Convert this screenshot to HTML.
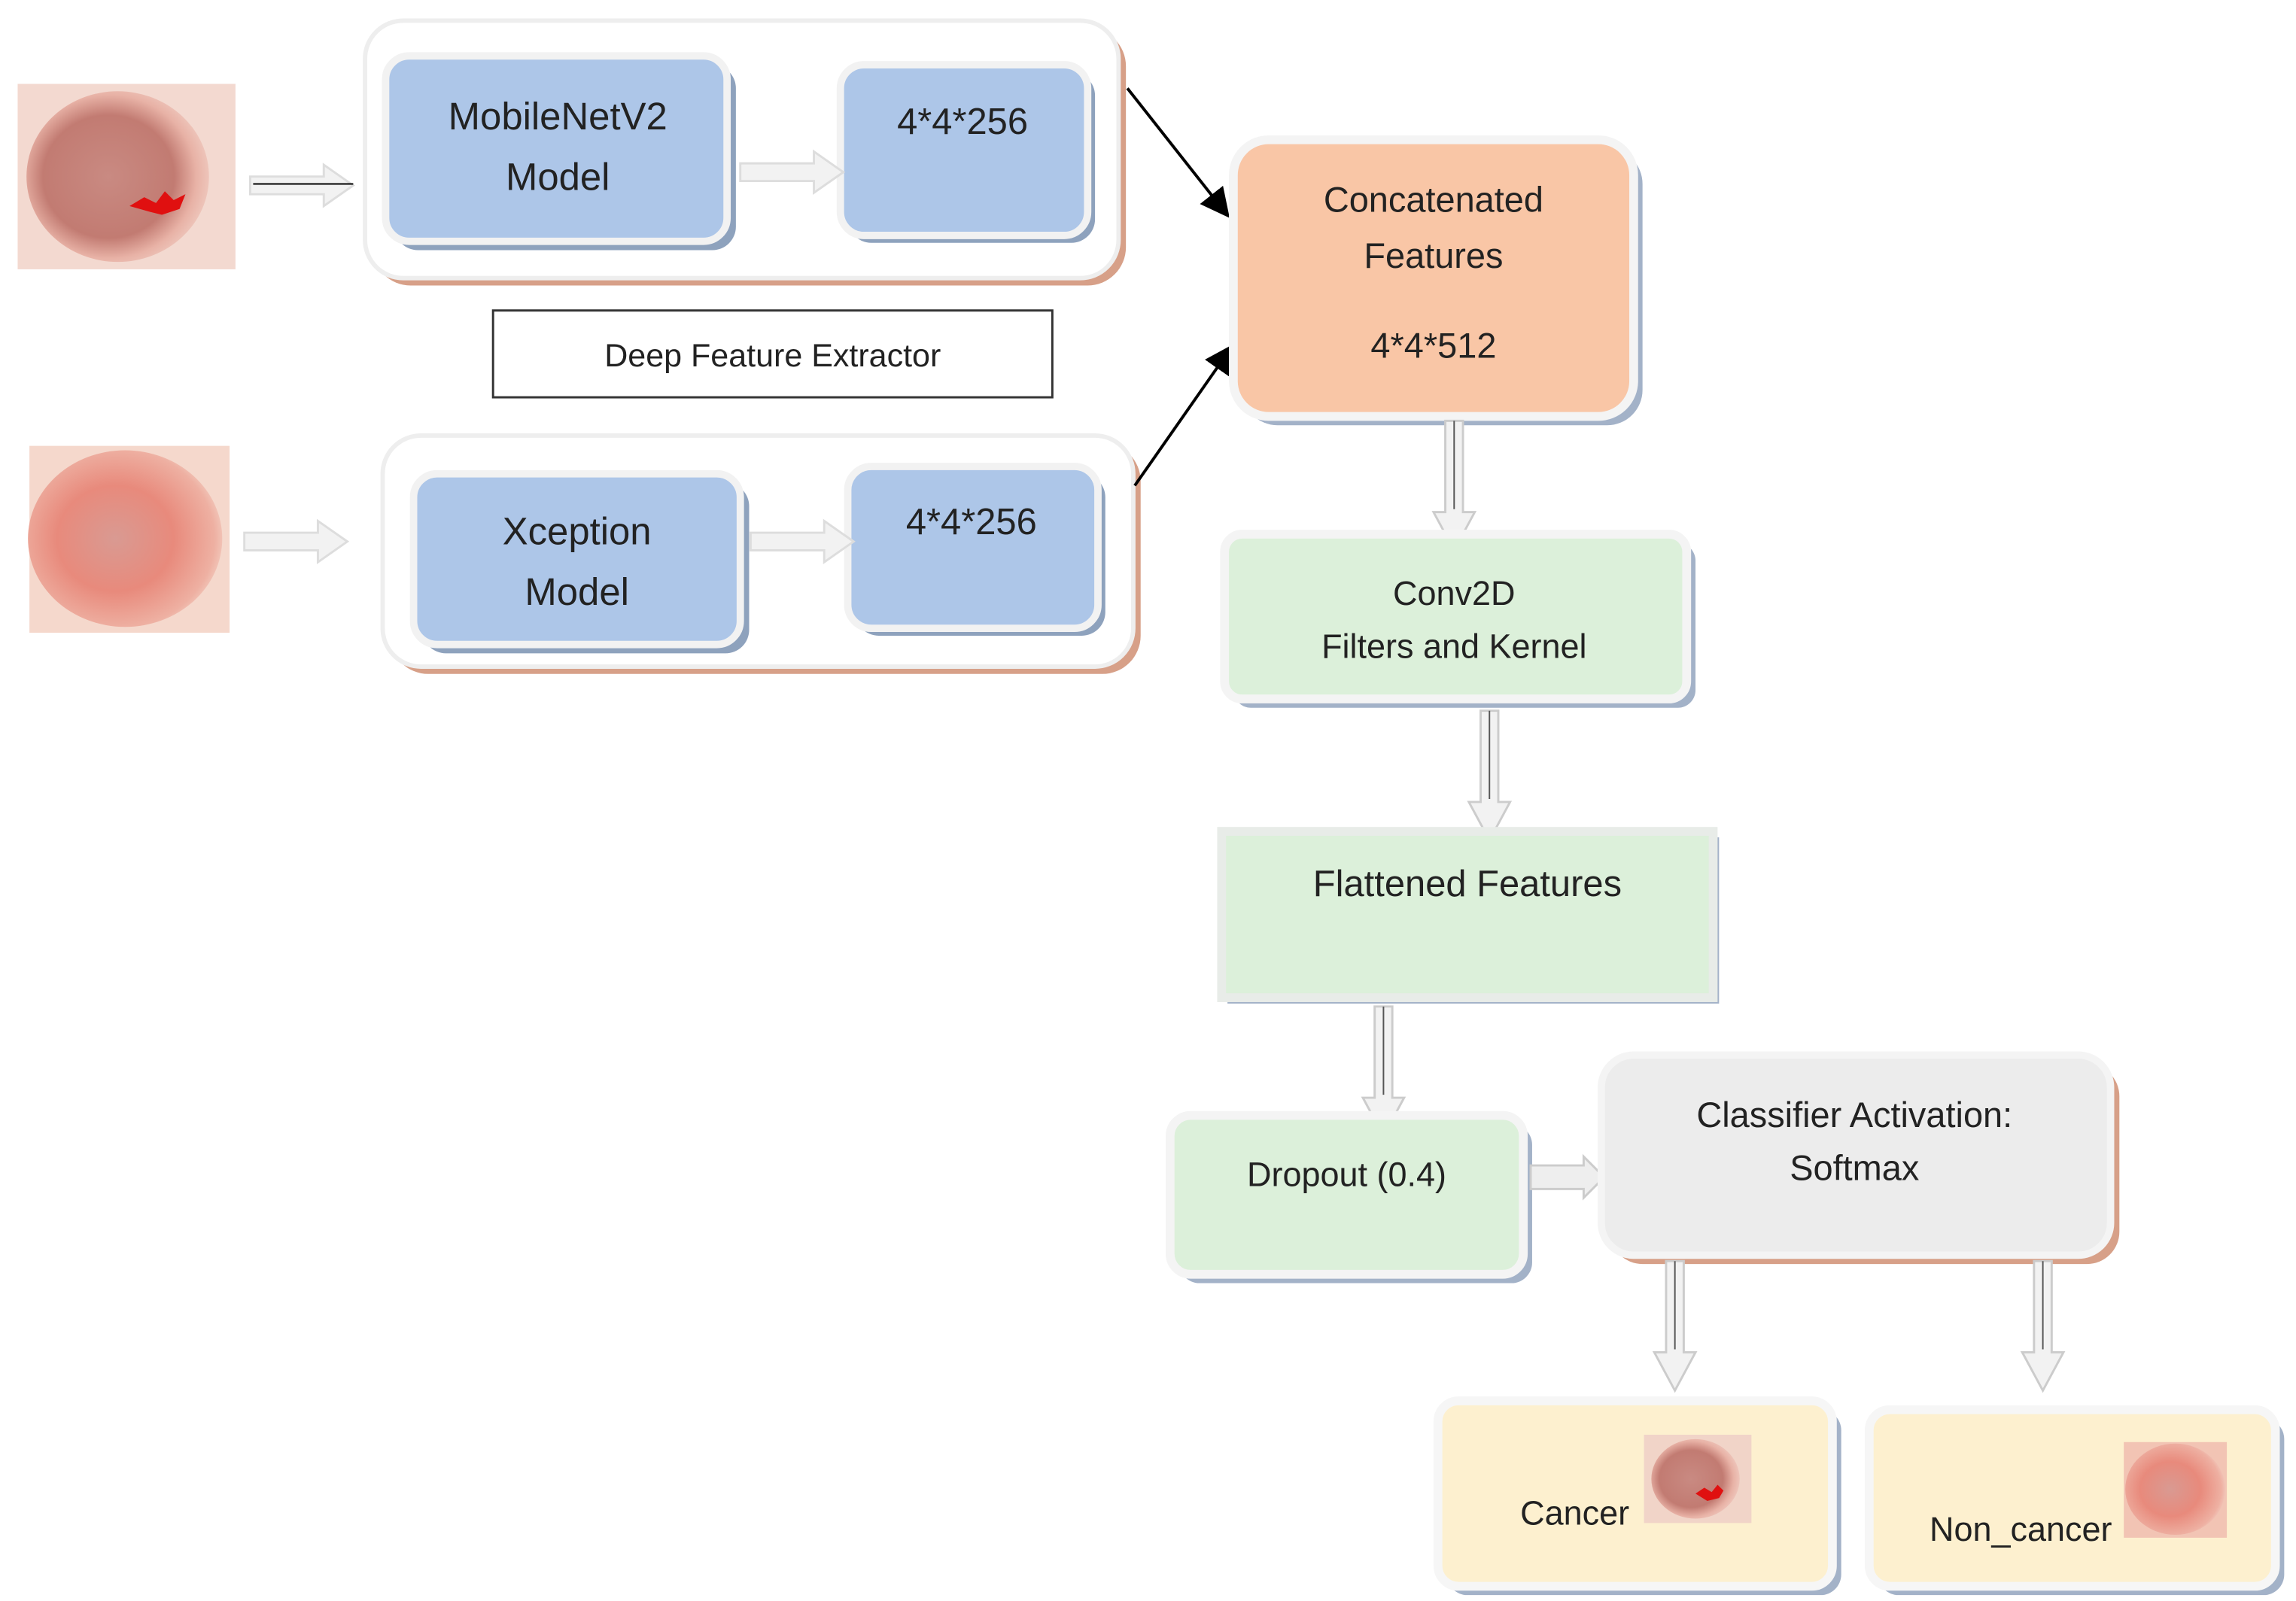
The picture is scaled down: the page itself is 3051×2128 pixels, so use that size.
<!DOCTYPE html>
<html><head><meta charset="utf-8"><style>
html,body{margin:0;padding:0;background:#fff}
svg{display:block}
text{font-family:"Liberation Sans",sans-serif;fill:#222}
</style></head><body>
<svg width="3051" height="2128" viewBox="0 0 1560 1088" preserveAspectRatio="none" xmlns="http://www.w3.org/2000/svg">
<defs>
<radialGradient id="sk1" cx="0.45" cy="0.5" r="0.6"><stop offset="0" stop-color="#c98a82"/><stop offset="0.6" stop-color="#c27b72"/><stop offset="0.8" stop-color="#e8b2a6"/><stop offset="1" stop-color="#f2d2c8"/></radialGradient>
<radialGradient id="sk2" cx="0.45" cy="0.5" r="0.6"><stop offset="0" stop-color="#d99a92"/><stop offset="0.5" stop-color="#e88a7c"/><stop offset="0.85" stop-color="#eeb0a2"/><stop offset="1" stop-color="#f5d8cc"/></radialGradient>
<marker id="ah" markerWidth="10" markerHeight="10" refX="8" refY="5" orient="auto"><path d="M0,0 L10,5 L0,10 z" fill="#000"/></marker>
<g id="harr"><path d="M0,-6 H50 V-14 L70,0 L50,14 V6 H0 z" fill="#f2f2f2" stroke="#ddd" stroke-width="1.5"/></g>
<g id="varr"><path d="M-6,0 V62 H-14 L0,88 L14,62 H6 V0 z" fill="#f2f2f2" stroke="#ccc" stroke-width="1.5"/><line x1="0" y1="0" x2="0" y2="60" stroke="#555" stroke-width="1"/></g>
</defs>
<!-- images -->
<rect x="12" y="57" width="148" height="126" fill="#f3d9d0"/>
<ellipse cx="80" cy="120" rx="62" ry="58" fill="url(#sk1)"/>
<path d="M88,140 l10,-6 8,4 6,-8 6,6 8,-4 -4,10 -12,4 -8,-2z" fill="#e01010"/>
<rect x="20" y="303" width="136" height="127" fill="#f5d8cc"/>
<ellipse cx="85" cy="366" rx="66" ry="60" fill="url(#sk2)"/>
<!-- outer box 1 -->
<rect x="253" y="19" width="512" height="175" rx="26" fill="#d7a088"/>
<rect x="248" y="14" width="512" height="175" rx="26" fill="#fff" stroke="#eee" stroke-width="3"/>
<rect x="268" y="44" width="232" height="126" rx="16" fill="#8ea2bd"/>
<rect x="262" y="38" width="232" height="126" rx="16" fill="#adc6e8" stroke="#f2f2f2" stroke-width="5"/>
<text x="379" y="88" font-size="26" text-anchor="middle">MobileNetV2</text>
<text x="379" y="129" font-size="26" text-anchor="middle">Model</text>
<rect x="576" y="49" width="168" height="116" rx="16" fill="#8ea2bd"/>
<rect x="571" y="44" width="168" height="116" rx="16" fill="#adc6e8" stroke="#f2f2f2" stroke-width="5"/>
<text x="654" y="91" font-size="25" text-anchor="middle">4*4*256</text>
<use href="#harr" x="170" y="126"/>
<line x1="172" y1="125" x2="240" y2="125" stroke="#000" stroke-width="1"/>
<use href="#harr" x="503" y="117"/>
<!-- label -->
<rect x="335" y="211" width="380" height="59" fill="#fff" stroke="#333" stroke-width="1.5"/>
<text x="525" y="249" font-size="22" text-anchor="middle">Deep Feature Extractor</text>
<!-- outer box 2 -->
<rect x="265" y="301" width="510" height="157" rx="26" fill="#d7a088"/>
<rect x="260" y="296" width="510" height="157" rx="26" fill="#fff" stroke="#eee" stroke-width="3"/>
<rect x="287" y="328" width="222" height="116" rx="16" fill="#8ea2bd"/>
<rect x="281" y="322" width="222" height="116" rx="16" fill="#adc6e8" stroke="#f2f2f2" stroke-width="5"/>
<text x="392" y="370" font-size="26" text-anchor="middle">Xception</text>
<text x="392" y="411" font-size="26" text-anchor="middle">Model</text>
<rect x="581" y="322" width="170" height="110" rx="16" fill="#8ea2bd"/>
<rect x="576" y="317" width="170" height="110" rx="16" fill="#adc6e8" stroke="#f2f2f2" stroke-width="5"/>
<text x="660" y="363" font-size="25" text-anchor="middle">4*4*256</text>
<use href="#harr" x="166" y="368"/>
<use href="#harr" x="510" y="368"/>
<!-- black arrows -->
<line x1="766" y1="60" x2="833" y2="145" stroke="#000" stroke-width="2" marker-end="url(#ah)"/>
<line x1="771" y1="330" x2="836" y2="237" stroke="#000" stroke-width="2" marker-end="url(#ah)"/>
<!-- concatenated -->
<rect x="844" y="101" width="272" height="188" rx="24" fill="#a3b2c8"/>
<rect x="838" y="95" width="272" height="188" rx="24" fill="#f9c6a6" stroke="#f4f4f4" stroke-width="6"/>
<text x="974" y="144" font-size="24" text-anchor="middle">Concatenated</text>
<text x="974" y="182" font-size="24" text-anchor="middle">Features</text>
<text x="974" y="243" font-size="24" text-anchor="middle">4*4*512</text>
<use href="#varr" x="988" y="286"/>
<!-- conv2d -->
<rect x="838" y="369" width="314" height="112" rx="12" fill="#a3b2c8"/>
<rect x="832" y="363" width="314" height="112" rx="12" fill="#dcf0da" stroke="#f4f4f4" stroke-width="6"/>
<text x="988" y="411" font-size="23" text-anchor="middle">Conv2D</text>
<text x="988" y="447" font-size="23" text-anchor="middle">Filters and Kernel</text>
<use href="#varr" x="1012" y="483"/>
<!-- flattened -->
<rect x="834" y="569" width="334" height="113" fill="#a3b2c8"/>
<rect x="830" y="565" width="334" height="113" fill="#dcf0da" stroke="#e8ece8" stroke-width="6"/>
<text x="997" y="609" font-size="25" text-anchor="middle">Flattened Features</text>
<use href="#varr" x="940" y="684"/>
<!-- dropout -->
<rect x="801" y="764" width="240" height="108" rx="14" fill="#a3b2c8"/>
<rect x="795" y="758" width="240" height="108" rx="14" fill="#dcf0da" stroke="#f4f4f4" stroke-width="6"/>
<text x="915" y="806" font-size="23" text-anchor="middle">Dropout (0.4)</text>
<path d="M1040,792 H1076 V786 L1090,800 L1076,814 V808 H1040 z" fill="#eee" stroke="#ccc" stroke-width="1.5"/>
<!-- classifier -->
<rect x="1094" y="723" width="346" height="136" rx="22" fill="#d7a088"/>
<rect x="1088" y="717" width="346" height="136" rx="22" fill="#ececec" stroke="#f4f4f4" stroke-width="5"/>
<text x="1260" y="766" font-size="24" text-anchor="middle">Classifier Activation:</text>
<text x="1260" y="802" font-size="24" text-anchor="middle">Softmax</text>
<use href="#varr" x="1138" y="857"/>
<use href="#varr" x="1388" y="857" transform="translate(0,0)"/>
<!-- cancer -->
<rect x="983" y="958" width="268" height="126" rx="14" fill="#a3b2c8"/>
<rect x="977" y="952" width="268" height="126" rx="14" fill="#fdf0cf" stroke="#f6f6f6" stroke-width="6"/>
<rect x="1117" y="975" width="73" height="60" fill="#f1d4c8"/>
<ellipse cx="1152" cy="1005" rx="30" ry="27" fill="url(#sk1)"/>
<path d="M1152,1015 l6,-4 5,3 4,-5 4,4 -3,5 -8,2z" fill="#e01010"/>
<text x="1070" y="1036" font-size="23" text-anchor="middle">Cancer</text>
<!-- non cancer -->
<rect x="1276" y="964" width="276" height="120" rx="14" fill="#a3b2c8"/>
<rect x="1270" y="958" width="276" height="120" rx="14" fill="#fdf0cf" stroke="#f6f6f6" stroke-width="6"/>
<rect x="1443" y="980" width="70" height="65" fill="#f2c4b4"/>
<ellipse cx="1478" cy="1012" rx="34" ry="31" fill="url(#sk2)"/>
<text x="1373" y="1047" font-size="23" text-anchor="middle">Non_cancer</text>
</svg>
</body></html>
